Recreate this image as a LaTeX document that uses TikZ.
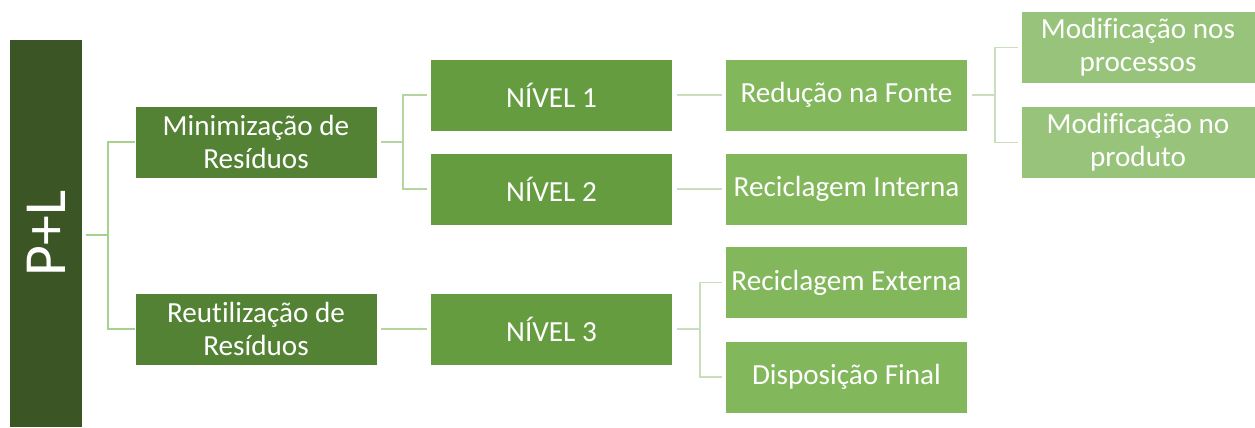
\documentclass[tikz,border=0pt]{standalone}
\usepackage{fontspec}
\setmainfont{Carlito}[Ligatures={NoCommon}]
\usepackage{tikz}
\usetikzlibrary{calc}

\definecolor{verdeA}{HTML}{3B5624}
\definecolor{verdeB}{HTML}{548235}
\definecolor{verdeC}{HTML}{659C3F}
\definecolor{verdeD}{HTML}{82B75B}
\definecolor{verdeE}{HTML}{97C47A}
\definecolor{linhaA}{HTML}{A9D18E}
\definecolor{linhaB}{HTML}{B4D4A0}
\definecolor{linhaC}{HTML}{C9DEBC}

\begin{document}
\begin{tikzpicture}[x=0.02cm, y=-0.02cm,
    caixa/.style={draw=white, line width=0.4pt, text=white, align=center,
      inner sep=0pt, minimum width=4.84cm, minimum height=1.44cm,
      font=\fontsize{16.6}{18.8}\selectfont},
    nivelA/.style={caixa, fill=verdeB},
    nivelB/.style={caixa, fill=verdeC},
    nivelC/.style={caixa, fill=verdeD},
    nivelD/.style={caixa, fill=verdeE, minimum width=4.68cm},
    liga/.style={line width=1.1pt, color=#1},
    liga/.default=linhaA]
      \useasboundingbox (0, 0) rectangle (1255, 427);
      % caixas
      \node[fill=verdeA, text=white, inner sep=0pt, minimum width=7.74cm,
        minimum height=1.44cm, rotate=90, font=\fontsize{34}{40}\selectfont]
        (pl) at (46, 233.5) {P+L};
      \node[nivelA] (min) at (256, 142) {Minimização de\\Resíduos};
      \node[nivelA] (reu) at (256, 329) {Reutilização de\\Resíduos};
      \node[nivelB] (n1) at (551.5, 95) {NÍVEL 1};
      \node[nivelB] (n2) at (551.5, 189) {NÍVEL 2};
      \node[nivelB] (n3) at (551.5, 329) {NÍVEL 3};
      \node[nivelC] (red) at (846.5, 95) {Redução na Fonte};
      \node[nivelC] (rint) at (846.5, 189) {Reciclagem Interna};
      \node[nivelC] (rext) at (846.5, 282.5) {Reciclagem Externa};
      \node[nivelC] (disp) at (846.5, 377) {Disposição Final};
      \node[nivelD] (mproc) at (1138, 47.5) {Modificação nos\\processos};
      \node[nivelD] (mprod) at (1138, 142.5) {Modificação no\\produto};
      % ligacoes
      \coordinate (f1) at (108, 235);
      \coordinate (f2) at (403, 142);
      \coordinate (f3) at (700, 329);
      \coordinate (f4) at (995, 95);
      \draw[liga] ($(pl.south |- f1)+(4,0)$) -- (f1);
      \draw[liga] (f1) |- (min.west);
      \draw[liga] (f1) |- (reu.west);
      \draw[liga=linhaB] ($(min.east)+(4,0)$) -- (f2);
      \draw[liga=linhaB] (f2) |- ($(n1.west)+(-3,0)$);
      \draw[liga=linhaB] (f2) |- ($(n2.west)+(-3,0)$);
      \draw[liga=linhaB] ($(reu.east)+(4,0)$) -- ($(n3.west)+(-3,0)$);
      \draw[liga=linhaC] ($(n1.east)+(4,0)$) -- ($(red.west)+(-3,0)$);
      \draw[liga=linhaC] ($(n2.east)+(4,0)$) -- ($(rint.west)+(-3,0)$);
      \draw[liga=linhaC] ($(n3.east)+(4,0)$) -- (f3);
      \draw[liga=linhaC] (f3) |- ($(rext.west)+(-3,0)$);
      \draw[liga=linhaC] (f3) |- ($(disp.west)+(-3,0)$);
      \draw[liga=linhaC] ($(red.east)+(4,0)$) -- (f4);
      \draw[liga=linhaC] (f4) |- ($(mproc.west)+(-3,0)$);
      \draw[liga=linhaC] (f4) |- ($(mprod.west)+(-3,0)$);
    \end{tikzpicture}
\end{document}
